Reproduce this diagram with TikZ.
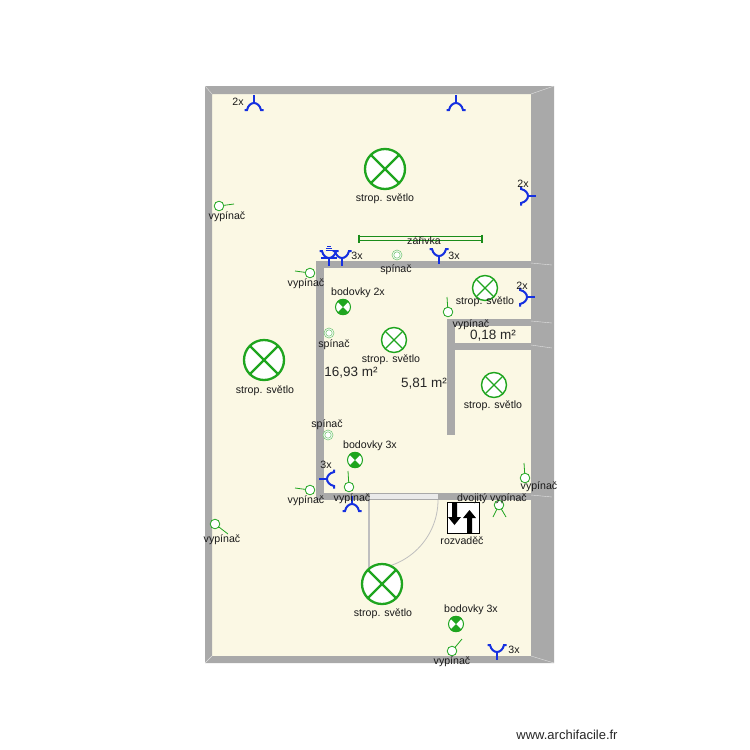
\documentclass[tikz,border=0pt]{standalone}
\usepackage{fontspec}
\setmainfont{Liberation Sans}
\definecolor{floorc}{HTML}{FBF8E4}
\definecolor{wallc}{HTML}{A9A9A9}
\definecolor{lampg}{HTML}{1FA51F}
\definecolor{sockb}{HTML}{1530E0}
\tikzset{
  x=1pt,y=-1pt,
  lbl/.style={inner sep=0pt,yshift=-1.5pt,font=\fontsize{10.6}{11}\selectfont,text=black!90},
  area/.style={inner sep=0pt,yshift=-1.5pt,font=\fontsize{13.5}{14}\selectfont,text=black!85},
  wall/.style={fill=wallc,draw=none},
  bevel/.style={draw=white!65!wallc,line width=.4pt},
  lampbig/.pic={
    \filldraw[fill=white,draw=lampg,line width=2.3pt] (0,0) circle (20);
    \draw[lampg,line width=2.2pt] (-14.1,-14.1)--(14.1,14.1) (-14.1,14.1)--(14.1,-14.1);
  },
  lampmid/.pic={
    \filldraw[fill=white,draw=lampg,line width=1.4pt] (0,0) circle (12.5);
    \draw[lampg,line width=1.3pt] (-8.8,-8.8)--(8.8,8.8) (-8.8,8.8)--(8.8,-8.8);
  },
  spot/.pic={
    \filldraw[fill=white,draw=lampg,line width=1pt] (0,0) circle (7.5);
    \fill[lampg] (0,0)--(-5.8,-5.8) arc[start angle=225,end angle=315,radius=8.2]--cycle;
    \fill[lampg] (0,0)--(-5.8,5.8) arc[start angle=135,end angle=45,radius=8.2]--cycle;
  },
  sw/.style={fill=white,draw=lampg,line width=.8pt},
  swt/.style={draw=lampg,line width=.8pt},
  dsw/.pic={
    \draw[lampg!60,line width=.6pt,fill=white] (0,0) circle (5);
    \draw[lampg!60,line width=.6pt] (0,0) circle (3.2);
  },
  outlet/.pic={
    \draw[sockb,line width=2pt] (-9.5,-7)--(-7,-7) .. controls (-6,-2.5) and (-3,0) .. (0,0) .. controls (3,0) and (6,-2.5) .. (7,-7)--(9.5,-7);
    \draw[sockb,line width=2pt] (0,0)--(0,8);
  }
}
\begin{document}
\begin{tikzpicture}
\useasboundingbox (0,0) rectangle (750,750);
% floor and walls
\fill[floorc] (205,86) rectangle (554,663);
\fill[wall] (205,86)--(554,86)--(554,663)--(205,663)--cycle
  (212,94)--(212,656)--(531,656)--(531,94)--cycle;
\fill[wall] (316,261) rectangle (531,268);
\fill[wall] (316,261) rectangle (324,500);
\fill[wall] (316,493) rectangle (531,500);
\fill[wall] (447,319) rectangle (455,435);
\fill[wall] (447,319) rectangle (531,326);
\fill[wall] (455,343) rectangle (531,350);
% bevels
\draw[bevel] (205,86)--(212,94) (205,663)--(212,656) (554,86)--(531,94) (554,663)--(531,656);
\draw[bevel] (531,263)--(552,265) (531,321)--(552,323) (531,345)--(552,348) (531,495)--(552,497);
% door
\fill[white!75!wallc] (370,494) rectangle (438,499);
\draw[white!75!black,line width=1.6pt] (369,500)--(369,568);
\draw[white!75!black,line width=.8pt] (438,500) arc[start angle=0,end angle=90,radius=69];
% lamps
\pic at (385,169) {lampbig};
\pic at (264,360) {lampbig};
\pic at (382,584) {lampbig};
\pic at (394,340) {lampmid};
\pic at (485,288) {lampmid};
\pic at (494,385) {lampmid};
\pic at (343,307) {spot};
\pic at (355,460) {spot};
\pic at (456,624) {spot};
% zarivka
\draw[lampg!85!black,line width=.8pt] (359.5,236.5)--(481.5,236.5) (359.5,240.5)--(481.5,240.5);
\draw[lampg!85!black,line width=1.3pt] (359,234.5)--(359,242.5) (482,234.5)--(482,242.5);
% outlets
\pic at (254,103) [rotate=180] {outlet};
\pic at (456,103) [rotate=180] {outlet};
\pic at (528,196) [rotate=90] {outlet};
\pic at (527,297) [rotate=90] {outlet};
\pic at (329,258) {outlet};
\pic at (342,258) {outlet};
\pic at (439,256) {outlet};
\pic at (327,479) [rotate=-90] {outlet};
\pic at (352,504) [rotate=180] {outlet};
\pic at (497,652) {outlet};
\draw[sockb,line width=2pt] (321,258)--(337,258);
\draw[sockb,line width=.4pt] (326,248)--(332,248) (325.5,250)--(332.5,250) (327,246.5)--(331,246.5);
% switches
\draw[swt] (219,206)--(234,204);   \draw[sw] (219,206) circle (4.8);
\draw[swt] (310,273)--(295,271);   \draw[sw] (310,273) circle (4.8);
\draw[swt] (448,312)--(447,297);   \draw[sw] (448,312) circle (4.8);
\draw[swt] (310,490)--(295,488);   \draw[sw] (310,490) circle (4.8);
\draw[swt] (349,487)--(348,471);   \draw[sw] (349,487) circle (4.8);
\draw[swt] (525,478)--(524,463);   \draw[sw] (525,478) circle (4.8);
\draw[swt] (499,505)--(493,517) (499,505)--(506,517); \draw[sw] (499,505) circle (4.8);
\draw[swt] (452,651)--(462,639);   \draw[sw] (452,651) circle (4.8);
\draw[swt] (215,524)--(228,534);   \draw[sw] (215,524) circle (4.8);
\pic at (397,255) {dsw};
\pic at (329,333) {dsw};
\pic at (328,435) {dsw};
% panel
\filldraw[fill=white,draw=black,line width=.8pt] (447,502) rectangle (479,533);
\fill[black] (452,503)--(457,503)--(457,517)--(461,517)--(454.5,525)--(448,517)--(452,517)--cycle;
\fill[black] (467,533)--(472,533)--(472,518)--(476,518)--(469.5,510)--(463,518)--(467,518)--cycle;
% labels
\node[lbl] (l1) at (227,215) {vypínač};
\node[lbl] (l2) at (385,197) {strop. světlo};
\node[lbl] (l3) at (424,239) {zářivka};
\node[lbl] (l4) at (396,268) {spínač};
\node[lbl] (l5) at (357,254) {3x};
\node[lbl] (l6) at (454,254) {3x};
\node[lbl] (l7) at (238,100) {2x};
\node[lbl] (l8) at (523,182) {2x};
\node[lbl] (l9) at (522,284) {2x};
\node[lbl] (l10) at (306,282) {vypínač};
\node[lbl] (l11) at (358,291) {bodovky 2x};
\node[lbl] (l12) at (485,300) {strop. světlo};
\node[lbl] (l13) at (471,323) {vypínač};
\node[area] (a1) at (493,334) {0,18 m²};
\node[lbl] (l14) at (334,343) {spínač};
\node[lbl] (l15) at (391,358) {strop. světlo};
\node[area] (a2) at (351,371) {16,93 m²};
\node[area] (a3) at (424,382) {5,81 m²};
\node[lbl] (l16) at (265,389) {strop. světlo};
\node[lbl] (l17) at (493,404) {strop. světlo};
\node[lbl] (l18) at (327,423) {spínač};
\node[lbl] (l19) at (370,444) {bodovky 3x};
\node[lbl] (l20) at (326,463) {3x};
\node[lbl] (l21) at (306,499) {vypínač};
\node[lbl] (l22) at (352,497) {vypínač};
\node[lbl] (l23) at (492,497) {dvojitý vypínač};
\node[lbl] (l24) at (539,485) {vypínač};
\node[lbl] (l25) at (462,539) {rozvaděč};
\node[lbl] (l26) at (222,538) {vypínač};
\node[lbl] (l27) at (383,612) {strop. světlo};
\node[lbl] (l28) at (471,608) {bodovky 3x};
\node[lbl] (l29) at (514,648) {3x};
\node[lbl] (l30) at (452,660) {vypínač};
\node[inner sep=0pt,font=\fontsize{13}{14}\selectfont,text=black!85] (wm) at (567,735) {www.archifacile.fr};
\end{tikzpicture}
\end{document}
